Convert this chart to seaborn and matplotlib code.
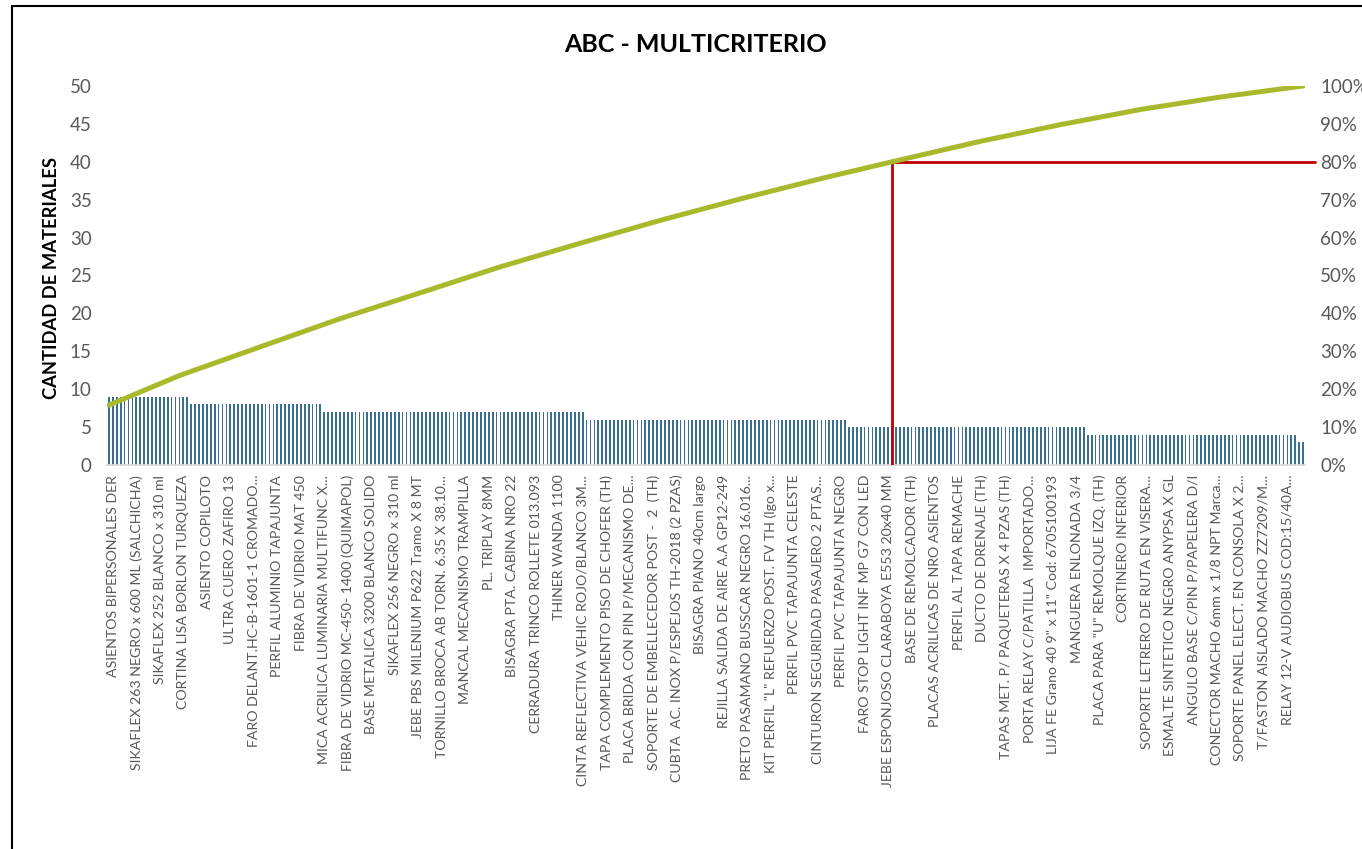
import numpy as np
import pandas as pd
import matplotlib
matplotlib.use("Agg")
import matplotlib.pyplot as plt
import matplotlib.transforms as mtransforms
import seaborn as sns
from matplotlib.lines import Line2D
from matplotlib.ticker import FuncFormatter

# --- datos ---
niveles = [9, 8, 7, 6, 5, 4, 3]            # cantidad de materiales por item
n_items = [21, 34, 67, 67, 61, 54, 2]      # nro de items en cada nivel

rank_linea = [0, 18, 39, 59, 80, 100, 121, 141, 162, 182, 200, 223, 243, 264, 284, 305]
pct_linea = [15.8, 23.6, 31.3, 38.6, 45.6, 52.3, 58.7, 64.6, 70.4, 75.6, 80.0,
             85.5, 89.8, 93.9, 97.1, 100.0]

corte_80 = 200   # item donde se alcanza el 80%

etiquetas = [
    "ASIENTOS BIPERSONALES DER",
    "SIKAFLEX 263 NEGRO x 600 ML (SALCHICHA)",
    "SIKAFLEX 252 BLANCO x 310 ml",
    "CORTINA LISA BORLON TURQUEZA",
    "ASIENTO COPILOTO",
    "ULTRA CUERO ZAFIRO 13",
    "FARO DELANT.HC-B-1601-1 CROMADO...",
    "PERFIL ALUMINIO TAPAJUNTA",
    "FIBRA DE VIDRIO MAT 450",
    "MICA ACRILICA LUMINARIA MULTIFUNC X...",
    "FIBRA DE VIDRIO MC-450- 1400 (QUIMAPOL)",
    "BASE METALICA 3200 BLANCO SOLIDO",
    "SIKAFLEX 256 NEGRO x 310 ml",
    "JEBE PBS MILENIUM P622 Tramo X 8 MT",
    "TORNILLO BROCA AB TORN. 6.35 X 38.10...",
    "MANCAL MECANISMO TRAMPILLA",
    "PL. TRIPLAY 8MM",
    "BISAGRA PTA. CABINA NRO 22",
    "CERRADURA TRINCO ROLLETE 013.093",
    "THINER WANDA 1100",
    "CINTA REFLECTIVA VEHIC ROJO/BLANCO 3M...",
    "TAPA COMPLEMENTO PISO DE CHOFER (TH)",
    "PLACA BRIDA CON PIN P/MECANISMO DE...",
    "SOPORTE DE EMBELLECEDOR POST -  2  (TH)",
    "CUBTA  AC. INOX P/ESPEJOS TH-2018 (2 PZAS)",
    "BISAGRA PIANO 40cm largo",
    "REJILLA SALIDA DE AIRE A.A GP12-249",
    "PRETO PASAMANO BUSSCAR NEGRO 16.016...",
    "KIT PERFIL \"L\" REFUERZO POST. FV TH (lgo x...",
    "PERFIL PVC TAPAJUNTA CELESTE",
    "CINTURON SEGURIDAD PASAJERO 2 PTAS...",
    "PERFIL PVC TAPAJUNTA NEGRO",
    "FARO STOP LIGHT INF MP G7 CON LED",
    "JEBE ESPONJOSO CLARABOYA E553 20x40 MM",
    "BASE DE REMOLCADOR (TH)",
    "PLACAS ACRILICAS DE NRO ASIENTOS",
    "PERFIL AL TAPA REMACHE",
    "DUCTO DE DRENAJE (TH)",
    "TAPAS MET. P/ PAQUETERAS X 4 PZAS (TH)",
    "PORTA RELAY C/PATILLA  IMPORTADO...",
    "LIJA FE Grano 40 9\" x 11\" Cod: 6705100193",
    "MANGUERA ENLONADA 3/4",
    "PLACA PARA \"U\" REMOLQUE IZQ. (TH)",
    "CORTINERO INFERIOR",
    "SOPORTE LETRERO DE RUTA EN VISERA...",
    "ESMALTE SINTETICO NEGRO ANYPSA X GL",
    "ANGULO BASE C/PIN P/PAPELERA D/I",
    "CONECTOR MACHO 6mm x 1/8 NPT Marca...",
    "SOPORTE PANEL ELECT. EN CONSOLA X 2...",
    "T/FASTON AISLADO MACHO ZZ7209/M...",
    "RELAY 12-V AUDIOBUS COD:15/40A...",
]
paso_etiqueta = 6   # Excel muestra 1 de cada 6 categorias

# --- armado de la tabla ---
cantidades = np.repeat(niveles, n_items)
df = pd.DataFrame({"item": np.arange(len(cantidades)), "cantidad": cantidades})

sns.set_theme(style="white")
plt.rcParams['font.family'] = ['Lato', 'DejaVu Sans']

gris = '#595959'
fig = plt.figure(figsize=(13.62, 8.49), dpi=100)
ax = fig.add_axes([107 / 1362, 1 - 465 / 849, 1198 / 1362, 379 / 849])

sns.barplot(data=df, x="item", y="cantidad", color='#3A6F91', saturation=1,
            width=0.45, linewidth=0, ax=ax)
ax.set_ylim(0, 50)
ax.set_yticks(range(0, 51, 5))
ax.tick_params(axis='y', labelsize=13.5, labelcolor=gris, length=0, pad=11)
ax.set_xticks(range(0, paso_etiqueta * len(etiquetas), paso_etiqueta))
ax.set_xticklabels(etiquetas, rotation=90, fontsize=10.2, color=gris, va='top', ha='center')
ax.tick_params(axis='x', length=0, pad=7)
# pequeño corrimiento de las etiquetas como en Excel
desplazar = mtransforms.ScaledTranslation(4 / 100, 0, fig.dpi_scale_trans)
for lbl in ax.get_xticklabels():
    lbl.set_transform(lbl.get_transform() + desplazar)
ax.set_xlabel('')
ax.set_ylabel('')
for s in ['top', 'left', 'right']:
    ax.spines[s].set_visible(False)
ax.spines['bottom'].set_color('#D9D9D9')

# eje secundario: % acumulado
ax2 = ax.twinx()
sns.lineplot(x=rank_linea, y=pct_linea, ax=ax2, color='#A8B92B', linewidth=3.6,
             solid_capstyle='round', solid_joinstyle='round', zorder=5)
ax2.set_ylim(0, 100)
ax2.set_yticks(range(0, 101, 10))
ax2.yaxis.set_major_formatter(FuncFormatter(lambda v, p: f"{v:.0f}%"))
ax2.tick_params(axis='y', labelsize=13.5, labelcolor=gris, length=0, pad=11)
for s in ['top', 'left', 'right', 'bottom']:
    ax2.spines[s].set_visible(False)
ax2.set_ylabel('')

# linea de corte 80%
ax2.plot([corte_80, corte_80], [0, 80], color='#C00000', linewidth=2, zorder=4)
ax2.plot([corte_80, 308], [80, 80], color='#C00000', linewidth=2, zorder=4, clip_on=False)
ax2.set_xlim(-0.5, len(cantidades) - 0.5)

fig.text(695 / 1362, 1 - 44 / 849, 'ABC - MULTICRITERIO', ha='center', va='center',
         fontsize=18, fontweight='bold', color='black')
fig.text(52 / 1362, 1 - 278 / 849, 'CANTIDAD DE MATERIALES', ha='center', va='center',
         rotation=90, fontsize=13.2, fontweight='bold', color='black')

# marco del grafico
fig.add_artist(Line2D([12 / 1362, 12 / 1362], [1 - 6 / 849, 0], color='black',
                      linewidth=1.5, transform=fig.transFigure))
fig.add_artist(Line2D([12 / 1362, 1], [1 - 6 / 849, 1 - 6 / 849], color='black',
                      linewidth=1.5, transform=fig.transFigure))

plt.savefig('out.png', dpi=100)
plt.close()
